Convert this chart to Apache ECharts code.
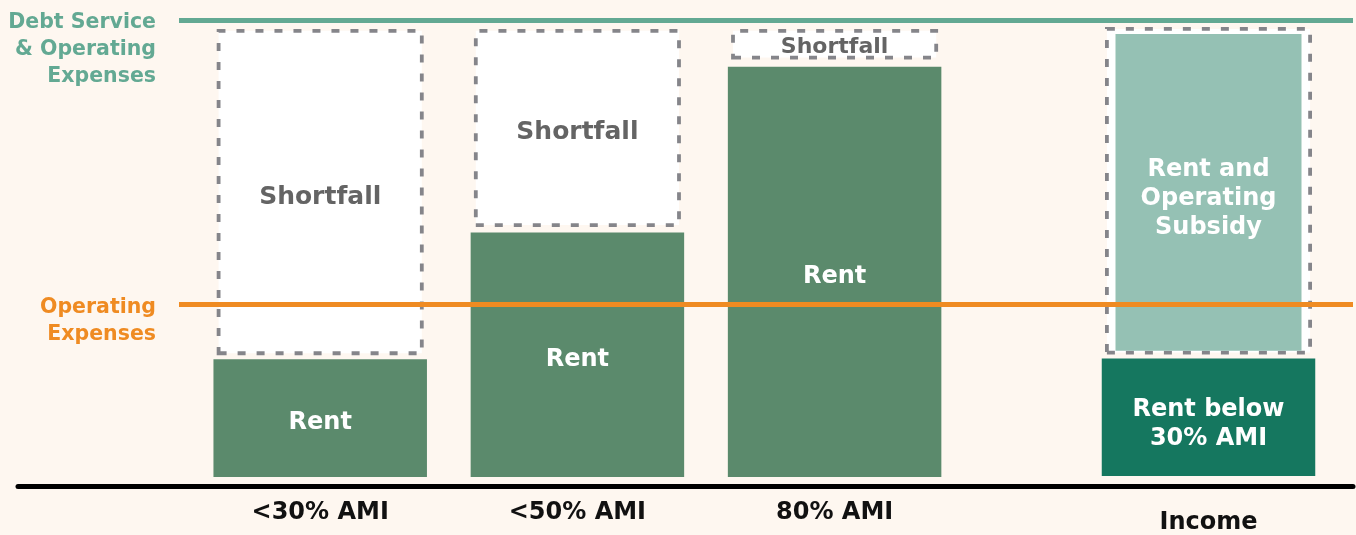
<!DOCTYPE html>
<html>
<head>
<meta charset="utf-8">
<script src="https://cdn.jsdelivr.net/npm/echarts@6/dist/echarts.min.js"></script>
<style>
html,body{margin:0;padding:0;background:#fef7f0;}
#chart{width:1356px;height:535px;}
</style>
</head>
<body>
<div id="chart"></div>
<script>
// ---- data (units: Debt Service & Operating Expenses = 100) ----
var categories = ['<30% AMI', '<50% AMI', '80% AMI'];
var rent = [25.8, 53.6, 89.9];
var shortfallStart = [26.7, 54.8, 91.5];
var costTop = [98.2, 98.2, 98.2];
var incomeCategory = ['Income'];
var rentBelow30 = [25.8];
var subsidyBoxStart = [26.7];
var subsidyBoxTop = [98.6];
var subsidyStart = [27.5];
var subsidyTop = [97.1];
var debtServiceLevel = 100;
var operatingLevel = 37.9;
var refLabels = ['Debt Service\n& Operating\nExpenses', 'Operating\nExpenses'];

// ---- styles ----
var FONT = 'DejaVu Sans';
var C = {
  bg: '#fef7f0', rent: '#5b8a6c', dark: '#15775f', light: '#95c1b4',
  teal: '#63a993', orange: '#ef8b22', dash: '#85858a', sf: '#646464', ink: '#111111'
};
var gridTop = 20.7, gridBottom = 58;

var shortfall = costTop.map(function (t, i) { return +(t - shortfallStart[i]).toFixed(2); });
var subsidyBox = subsidyBoxTop.map(function (t, i) { return +(t - subsidyBoxStart[i]).toFixed(2); });
var subsidy = subsidyTop.map(function (t, i) { return +(t - subsidyStart[i]).toFixed(2); });

function hiddenCat(grid, data) {
  return { type: 'category', gridIndex: grid, data: data, show: false };
}
function hiddenVal(grid) {
  return { type: 'value', gridIndex: grid, min: 0, max: 100, show: false };
}
var dashBox = { color: '#ffffff', borderColor: C.dash, borderWidth: 3.8, borderType: [8, 11] };
var lbl = function (text, color, size, lh, dy) {
  return { show: true, position: 'inside', formatter: text, color: color, offset: [0, dy],
    fontFamily: FONT, fontWeight: 'bold', fontSize: size, lineHeight: lh || size };
};

var chart = echarts.init(document.getElementById('chart'), null, { renderer: 'canvas' });
var option = {
  animation: false,
  backgroundColor: C.bg,
  grid: [
    { left: 191.6, width: 771.6, top: gridTop, bottom: gridBottom },
    { left: 1080, width: 257, top: gridTop, bottom: gridBottom },
    { left: 179, right: 3, top: gridTop, bottom: gridBottom },
    { left: 18, right: 3, top: gridTop, bottom: gridBottom }
  ],
  xAxis: [
    { type: 'category', gridIndex: 0, data: categories,
      axisLine: { show: false }, axisTick: { show: false },
      axisLabel: { margin: 24, color: C.ink, fontFamily: FONT, fontWeight: 'bold', fontSize: 24 } },
    hiddenCat(0, categories),
    { type: 'category', gridIndex: 1, data: incomeCategory,
      axisLine: { show: false }, axisTick: { show: false },
      axisLabel: { margin: 35, color: C.ink, fontFamily: FONT, fontWeight: 'bold', fontSize: 24 } },
    hiddenCat(1, incomeCategory),
    hiddenCat(1, incomeCategory),
    { type: 'value', gridIndex: 2, min: 0, max: 1, show: false },
    { type: 'value', gridIndex: 3, min: 0, max: 1, position: 'bottom', offset: 9,
      axisLine: { show: true, onZero: false, lineStyle: { color: '#000000', width: 5 } },
      axisTick: { show: false }, axisLabel: { show: false }, splitLine: { show: false } }
  ],
  yAxis: [hiddenVal(0), hiddenVal(1), hiddenVal(2), hiddenVal(3)],
  series: [
    { name: 'Rent', type: 'bar', xAxisIndex: 0, yAxisIndex: 0, data: rent, barWidth: 213.5,
      itemStyle: { color: C.rent }, label: lbl('Rent', '#ffffff', 24, 24, 5) },
    { name: 'sfBase', type: 'bar', xAxisIndex: 1, yAxisIndex: 0, stack: 'sf', data: shortfallStart,
      barWidth: 207, itemStyle: { color: 'transparent' }, silent: true },
    { name: 'Shortfall', type: 'bar', xAxisIndex: 1, yAxisIndex: 0, stack: 'sf', barWidth: 207,
      data: shortfall.map(function (v, i) {
        return i === 2 ? { value: v, label: { fontSize: 22, lineHeight: 22, offset: [0, 3] } } : v;
      }),
      itemStyle: dashBox, label: lbl('Shortfall', C.sf, 25, 25, 5) },
    { name: 'Rent below 30% AMI', type: 'bar', xAxisIndex: 2, yAxisIndex: 1, data: rentBelow30,
      barWidth: 213.5, itemStyle: { color: C.dark }, label: lbl('Rent below\n30% AMI', '#ffffff', 24, 29, 7) },
    { name: 'boxBase', type: 'bar', xAxisIndex: 3, yAxisIndex: 1, stack: 'box', data: subsidyBoxStart,
      barWidth: 207, itemStyle: { color: 'transparent' }, silent: true },
    { name: 'SubsidyBox', type: 'bar', xAxisIndex: 3, yAxisIndex: 1, stack: 'box', data: subsidyBox,
      barWidth: 207, itemStyle: dashBox },
    { name: 'subBase', type: 'bar', xAxisIndex: 4, yAxisIndex: 1, stack: 'sub', data: subsidyStart,
      barWidth: 186, itemStyle: { color: 'transparent' }, silent: true },
    { name: 'Rent and Operating Subsidy', type: 'bar', xAxisIndex: 4, yAxisIndex: 1, stack: 'sub',
      data: subsidy, barWidth: 186, itemStyle: { color: C.light },
      label: lbl('Rent and\nOperating\nSubsidy', '#ffffff', 24, 29, 6) },
    { name: 'refs', type: 'line', xAxisIndex: 5, yAxisIndex: 2, data: [],
      markLine: { silent: true, symbol: ['none', 'none'], label: { show: false },
        data: [
          { yAxis: debtServiceLevel, lineStyle: { color: C.teal, width: 5, type: 'solid' } },
          { yAxis: operatingLevel, lineStyle: { color: C.orange, width: 5, type: 'solid' } }
        ] } }
  ]
};
chart.setOption(option);

var yTeal = chart.convertToPixel({ yAxisIndex: 2 }, debtServiceLevel);
var yOrange = chart.convertToPixel({ yAxisIndex: 2 }, operatingLevel);
function refText(text, y, color, dy) {
  return { type: 'text', z: 10, style: { text: text, x: 156, y: y - 12.5 + dy, align: 'right',
    verticalAlign: 'top', fill: color, fontFamily: FONT, fontWeight: 'bold', fontSize: 20.5,
    lineHeight: 27 } };
}
chart.setOption({ graphic: [
  refText(refLabels[0], yTeal, C.teal, 1),
  refText(refLabels[1], yOrange, C.orange, 2.5)
] });
</script>
</body>
</html>
